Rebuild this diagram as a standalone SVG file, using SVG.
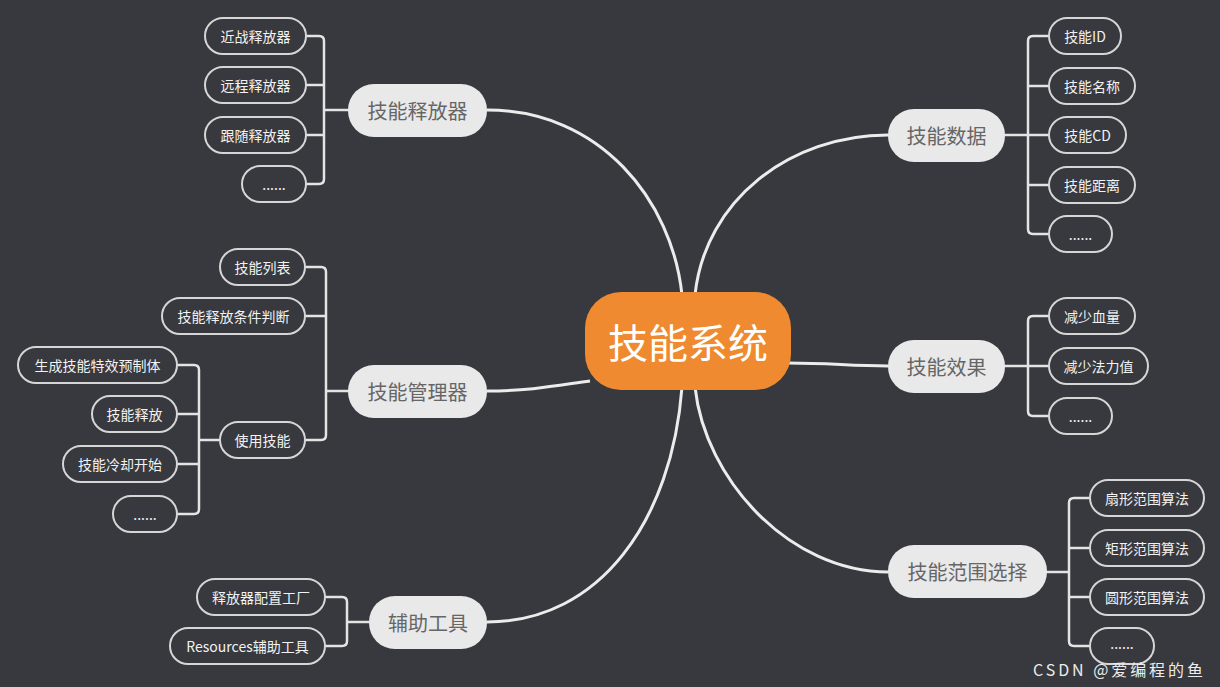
<svg xmlns="http://www.w3.org/2000/svg" width="1220" height="687" viewBox="0 0 1220 687">
<style>
.bg{fill:#37393e}
.leaf rect{fill:#37393e;stroke:#d6d6d6;stroke-width:2}
.leaf text{fill:#f2f2f2;font-family:"Noto Sans CJK SC","Noto Sans",sans-serif;font-size:14px;text-anchor:middle;dominant-baseline:central}
.main rect{fill:#e9e9e9}
.main text{fill:#666;font-family:"Noto Sans CJK SC","Noto Sans",sans-serif;font-size:20px;text-anchor:middle;dominant-baseline:central}
.conn path{fill:none;stroke:#e4e4e4;stroke-width:2.5;stroke-linecap:round}
.curve path{fill:none;stroke:#ececec;stroke-width:3}
</style>
<rect class="bg" x="0" y="0" width="1220" height="687"/>

<g id="connectors">
<g class="curve">
<path d="M487,110 C600,110 672,200 682,295"/>
<path d="M487,391 C530,391 560,385 590,381"/>
<path d="M487,622 C600,622 672,520 682,387"/>
<path d="M695,295 C705,200 790,135 888,135"/>
<path d="M788,363 C830,363 850,366 888,366"/>
<path d="M695,387 C705,480 790,572 888,572"/>
</g>
<g class="conn">
<path d="M306,36 H319 Q324,36 324,41 V179 Q324,184 319,184 H306 M306,85 H324 M306,135 H324 M324,110 H348"/>
<path d="M305,267 H321 Q326,267 326,272 V435 Q326,440 321,440 H305 M305,316 H326 M326,391 H348"/>
<path d="M177,365 H194 Q199,365 199,370 V509 Q199,514 194,514 H177 M177,414 H199 M177,464 H199 M199,440 H220"/>
<path d="M325,597 H342 Q347,597 347,602 V641 Q347,646 342,646 H325 M347,622 H369"/>
<path d="M1049,36 H1033 Q1028,36 1028,41 V229 Q1028,234 1033,234 H1049 M1028,86 H1049 M1005,135 H1049 M1028,185 H1049"/>
<path d="M1049,316 H1033 Q1028,316 1028,321 V411 Q1028,416 1033,416 H1049 M1005,366 H1049"/>
<path d="M1090,498 H1074 Q1069,498 1069,503 V641 Q1069,646 1074,646 H1090 M1069,548 H1090 M1069,597 H1090 M1047,572 H1069"/>
</g>
</g>

<g id="center">
<rect x="585" y="292" width="206" height="98" rx="36" fill="#ef8a30"/>
<text x="688" y="341" fill="#ffffff" font-family="'Noto Sans CJK SC','Noto Sans',sans-serif" font-size="40" text-anchor="middle" dominant-baseline="central">技能系统</text>
</g>

<g id="n-releaser" class="main"><rect x="348" y="84" width="139" height="53" rx="26"/><text x="417.5" y="110.5">技能释放器</text></g>
<g id="n-manager" class="main"><rect x="348" y="365" width="139" height="53" rx="26"/><text x="417.5" y="391.5">技能管理器</text></g>
<g id="n-tools" class="main"><rect x="369" y="596" width="118" height="53" rx="26"/><text x="428" y="622.5">辅助工具</text></g>
<g id="n-data" class="main"><rect x="888" y="109" width="117" height="53" rx="26"/><text x="946.5" y="135.5">技能数据</text></g>
<g id="n-effect" class="main"><rect x="888" y="340" width="117" height="53" rx="26"/><text x="946.5" y="366.5">技能效果</text></g>
<g id="n-range" class="main"><rect x="888" y="545" width="159" height="53" rx="26"/><text x="967.5" y="571.5">技能范围选择</text></g>

<g id="l-melee" class="leaf"><rect x="205" y="18" width="101" height="36" rx="18"/><text x="255.5" y="36">近战释放器</text></g>
<g id="l-ranged" class="leaf"><rect x="205" y="67" width="101" height="36" rx="18"/><text x="255.5" y="85">远程释放器</text></g>
<g id="l-follow" class="leaf"><rect x="205" y="117" width="101" height="36" rx="18"/><text x="255.5" y="135">跟随释放器</text></g>
<g id="l-rel-more" class="leaf"><rect x="242" y="166" width="64" height="36" rx="18"/><text x="274" y="184">......</text></g>

<g id="l-list" class="leaf"><rect x="220" y="249" width="85" height="36" rx="18"/><text x="262.5" y="267">技能列表</text></g>
<g id="l-cond" class="leaf"><rect x="162" y="298" width="143" height="36" rx="18"/><text x="233.5" y="316">技能释放条件判断</text></g>
<g id="l-use" class="leaf"><rect x="220" y="422" width="85" height="36" rx="18"/><text x="262.5" y="440">使用技能</text></g>
<g id="l-prefab" class="leaf"><rect x="18" y="347" width="159" height="36" rx="18"/><text x="97.5" y="365">生成技能特效预制体</text></g>
<g id="l-cast" class="leaf"><rect x="92" y="396" width="85" height="36" rx="18"/><text x="134.5" y="414">技能释放</text></g>
<g id="l-cool" class="leaf"><rect x="63" y="446" width="114" height="36" rx="18"/><text x="120" y="464">技能冷却开始</text></g>
<g id="l-use-more" class="leaf"><rect x="113" y="496" width="64" height="36" rx="18"/><text x="145" y="514">......</text></g>

<g id="l-factory" class="leaf"><rect x="197" y="579" width="128" height="36" rx="18"/><text x="261" y="597">释放器配置工厂</text></g>
<g id="l-res" class="leaf"><rect x="170" y="628" width="155" height="36" rx="18"/><text x="247.5" y="646">Resources辅助工具</text></g>

<g id="l-id" class="leaf"><rect x="1049" y="18" width="72" height="36" rx="18"/><text x="1085" y="36">技能ID</text></g>
<g id="l-name" class="leaf"><rect x="1049" y="68" width="86" height="36" rx="18"/><text x="1092" y="86">技能名称</text></g>
<g id="l-cd" class="leaf"><rect x="1049" y="117" width="77" height="36" rx="18"/><text x="1087.5" y="135">技能CD</text></g>
<g id="l-dist" class="leaf"><rect x="1049" y="167" width="86" height="36" rx="18"/><text x="1092" y="185">技能距离</text></g>
<g id="l-data-more" class="leaf"><rect x="1049" y="216" width="63" height="36" rx="18"/><text x="1080.5" y="234">......</text></g>

<g id="l-hp" class="leaf"><rect x="1049" y="298" width="86" height="36" rx="18"/><text x="1092" y="316">减少血量</text></g>
<g id="l-mp" class="leaf"><rect x="1049" y="348" width="99" height="36" rx="18"/><text x="1098.5" y="366">减少法力值</text></g>
<g id="l-eff-more" class="leaf"><rect x="1049" y="398" width="63" height="36" rx="18"/><text x="1080.5" y="416">......</text></g>

<g id="l-sector" class="leaf"><rect x="1090" y="480" width="114" height="36" rx="18"/><text x="1147" y="498">扇形范围算法</text></g>
<g id="l-rect" class="leaf"><rect x="1090" y="530" width="114" height="36" rx="18"/><text x="1147" y="548">矩形范围算法</text></g>
<g id="l-circle" class="leaf"><rect x="1090" y="579" width="114" height="36" rx="18"/><text x="1147" y="597">圆形范围算法</text></g>
<g id="l-range-more" class="leaf"><rect x="1090" y="628" width="64" height="36" rx="18"/><text x="1122" y="643">......</text></g>

<text x="1033" y="676" fill="#ececec" font-family="'Noto Sans CJK SC','Noto Sans',sans-serif" font-size="16" textLength="170" lengthAdjust="spacing">CSDN @爱编程的鱼</text>
</svg>
